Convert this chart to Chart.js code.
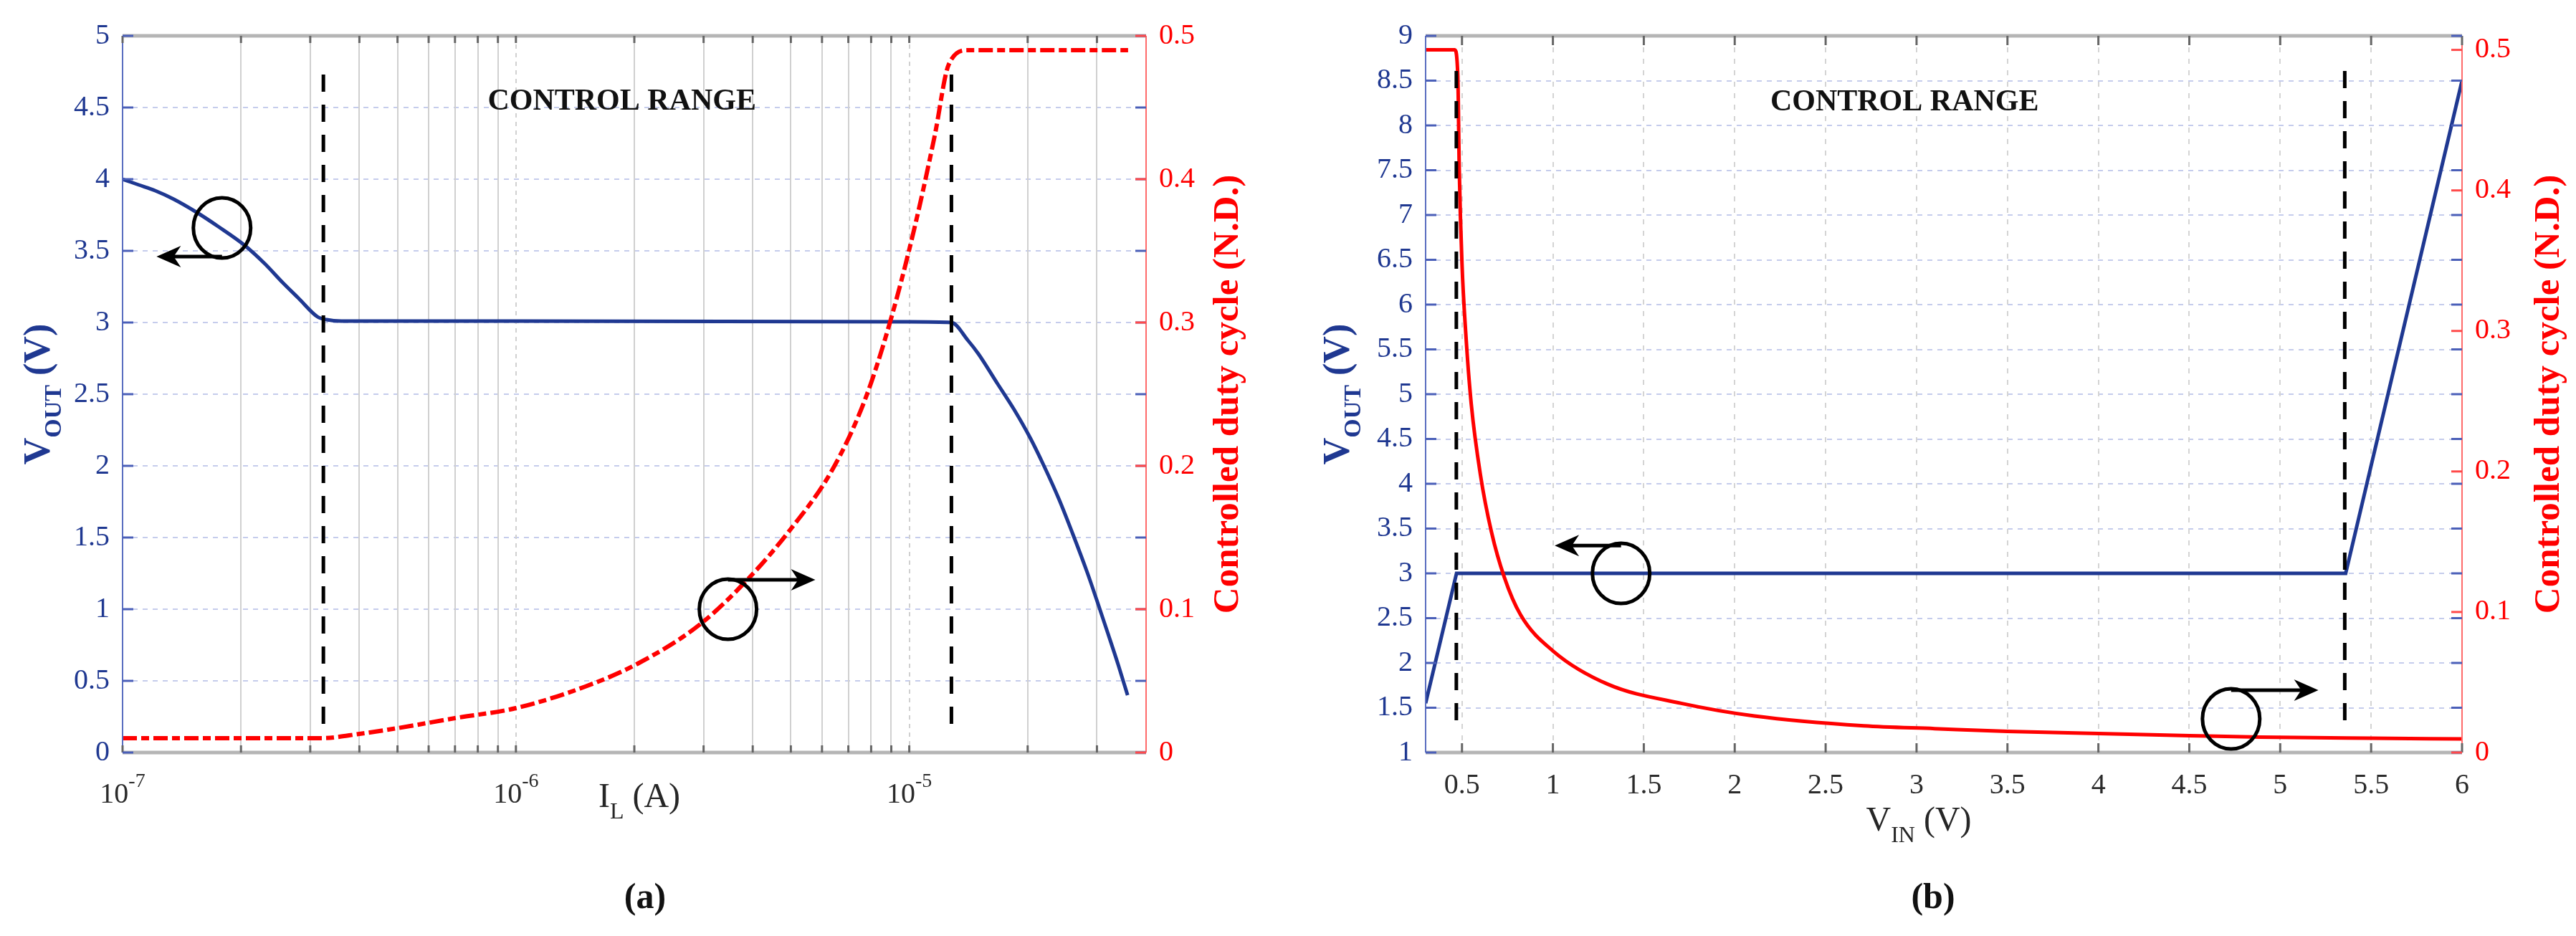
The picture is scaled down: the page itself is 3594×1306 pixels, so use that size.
<!DOCTYPE html>
<html>
<head>
<meta charset="utf-8">
<script src="https://cdn.jsdelivr.net/npm/chart.js@4.4.1/dist/chart.umd.min.js"></script>
<style>
  html, body { margin: 0; padding: 0; background: #fff; }
  #wrap { position: relative; width: 3594px; height: 1306px; }
  canvas { position: absolute; top: 0; width: 1797px; height: 1306px; }
  #chart-a { left: 0; }
  #chart-b { left: 1797px; }
</style>
</head>
<body>
<div id="wrap">
  <canvas id="chart-a" width="1797" height="1306"></canvas>
  <canvas id="chart-b" width="1797" height="1306"></canvas>
</div>
<script>
  // (a) output voltage and duty cycle vs load current
  var ilVout = [1e-7, 1.1e-7, 1.21e-7, 1.35e-7, 1.54e-7, 1.75e-7, 2.04e-7, 2.3e-7, 2.55e-7, 2.8e-7, 3.13e-7, 3.3e-7, 3.6e-7, 1e-6, 1e-5, 1.28e-5, 1.41e-5, 1.5e-5, 1.67e-5, 1.85e-5, 2.03e-5, 2.2e-5, 2.4e-5, 2.6e-5, 2.84e-5, 3.0e-5, 3.2e-5, 3.4e-5, 3.59e-5];
  var voutA = [4.00, 3.96, 3.92, 3.86, 3.77, 3.67, 3.54, 3.41, 3.28, 3.17, 3.04, 3.02, 3.01, 3.01, 3.005, 3.00, 2.875, 2.78, 2.58, 2.39, 2.195, 2.0, 1.77, 1.53, 1.25, 1.06, 0.83, 0.61, 0.40];
  var ilDuty = [1e-7, 3.2e-7, 4e-7, 5e-7, 7e-7, 1e-6, 1.5e-6, 2.04e-6, 2.94e-6, 3.92e-6, 5.0e-6, 6.35e-6, 7.7e-6, 8.93e-6, 1.03e-5, 1.16e-5, 1.26e-5, 1.41e-5, 3.6e-5];
  var dutyA = [0.01, 0.01, 0.013, 0.017, 0.024, 0.031, 0.046, 0.062, 0.0895, 0.122, 0.156, 0.1965, 0.2455, 0.30, 0.3655, 0.43, 0.48, 0.49, 0.49];
  var limitsA = [3.24e-7, 1.28e-5];
  var limitSpanA = [0.2, 4.82];

  // (b) output voltage and duty cycle vs input voltage
  var vinVout = [0.3, 0.47, 5.36, 6.0];
  var voutB = [1.55, 3.0, 3.0, 8.5];
  var vinDuty = [0.3, 0.46, 0.477, 0.485, 0.50, 0.521, 0.551, 0.601, 0.662, 0.732, 0.822, 1.003, 1.304, 1.706, 2.108, 2.71, 3.1, 3.5, 4.0, 4.5, 4.89, 5.5, 6.0];
  var dutyB = [0.5, 0.5, 0.482, 0.415, 0.348, 0.298, 0.248, 0.198, 0.157, 0.125, 0.098, 0.072, 0.0485, 0.035, 0.026, 0.019, 0.017, 0.015, 0.0135, 0.012, 0.011, 0.0102, 0.0097];
  var limitsB = [0.469, 5.355];
  var limitSpanB = [1.36, 8.74];

  // ticks
  var gridA = [1e-7, 2e-7, 3e-7, 4e-7, 5e-7, 6e-7, 7e-7, 8e-7, 9e-7, 1e-6, 2e-6, 3e-6, 4e-6, 5e-6, 6e-6, 7e-6, 8e-6, 9e-6, 1e-5, 2e-5, 3e-5];
  var decadesA = [1e-7, 1e-6, 1e-5];
  var decadeExpA = ['-7', '-6', '-5'];
  var voutTicksA = [0, 0.5, 1, 1.5, 2, 2.5, 3, 3.5, 4, 4.5, 5];
  var dutyTicksA = [0, 0.1, 0.2, 0.3, 0.4, 0.5];
  var vinTicksB = [0.5, 1, 1.5, 2, 2.5, 3, 3.5, 4, 4.5, 5, 5.5, 6];
  var voutTicksB = [1, 1.5, 2, 2.5, 3, 3.5, 4, 4.5, 5, 5.5, 6, 6.5, 7, 7.5, 8, 8.5, 9];
  var dutyTicksB = [0, 0.1, 0.2, 0.3, 0.4, 0.5];

  // circle + arrow marks (data coords): circle centre, arrow row, arrow tip
  var marksA = [
    { cx: 1.79e-7, cy: 3.66, ay: 3.46, tip: 1.22e-7 },
    { cx: 3.46e-6, cy: 1.0, ay: 1.205, tip: 5.77e-6 }
  ];
  var marksB = [
    { cx: 1.375, cy: 3.0, ay: 3.31, tip: 1.01 },
    { cx: 4.73, cy: 1.376, ay: 1.696, tip: 5.21 }
  ];
  var rangeLabelA = { x: 1.86e-6, y: 4.54 };
  var rangeLabelB = { x: 2.934, y: 8.256 };

  var SERIF = "'Liberation Serif', 'Times New Roman', serif";
  var BLUE = '#1f3891';
  var RED = '#ff0000';
  var HGRID = 'rgba(150,162,220,0.55)';

  function pts(xs, ys) {
    return xs.map(function (x, i) { return { x: x, y: ys[i] }; });
  }
  function fixTicks(vals) {
    return function (s) { s.ticks = vals.map(function (v) { return { value: v }; }); };
  }
  function fixW(w) { return function (s) { s.width = w; }; }
  function fixH(h) { return function (s) { s.height = h; }; }

  function runs(ctx, list, x, y, rot) {
    ctx.save();
    ctx.translate(x, y);
    if (rot) ctx.rotate(rot);
    ctx.textAlign = 'left';
    ctx.textBaseline = 'alphabetic';
    var total = 0;
    list.forEach(function (r) { ctx.font = r.font; total += ctx.measureText(r.text).width; });
    var cx = -total / 2;
    list.forEach(function (r) {
      ctx.font = r.font;
      ctx.fillStyle = r.color;
      ctx.fillText(r.text, cx, r.dy || 0);
      cx += ctx.measureText(r.text).width;
    });
    ctx.restore();
  }

  function line(ctx, x1, y1, x2, y2) {
    ctx.beginPath(); ctx.moveTo(x1, y1); ctx.lineTo(x2, y2); ctx.stroke();
  }

  function decor(cfg) {
    return {
      id: 'decor-' + cfg.name,
      afterDatasetsDraw: function (chart) {
        var ctx = chart.ctx, a = chart.chartArea;
        var x = chart.scales.x, y = chart.scales.y, y1 = chart.scales.y1;
        ctx.save();
        // frame
        ctx.lineWidth = 5; ctx.strokeStyle = '#b5b5b5';
        line(ctx, a.left, a.top, a.right, a.top);
        line(ctx, a.left, a.bottom, a.right, a.bottom);
        ctx.lineWidth = 2; ctx.strokeStyle = '#5a6ec0';
        line(ctx, a.left, a.top, a.left, a.bottom);
        ctx.strokeStyle = '#ff6a6a';
        line(ctx, a.right, a.top, a.right, a.bottom);
        // inward ticks
        ctx.lineWidth = 3; ctx.strokeStyle = '#666';
        cfg.xTicks.forEach(function (v) {
          var px = x.getPixelForValue(v);
          line(ctx, px, a.bottom, px, a.bottom - cfg.xTickLen);
          line(ctx, px, a.top, px, a.top + cfg.xTickLen);
        });
        ctx.strokeStyle = '#4a5fb8';
        cfg.yTicks.forEach(function (v) {
          var py = y.getPixelForValue(v);
          line(ctx, a.left, py, a.left + 15, py);
          line(ctx, a.right, py, a.right - 15, py);
        });
        ctx.strokeStyle = '#ff4a4a';
        cfg.dutyTicks.forEach(function (v) {
          var py = y1.getPixelForValue(v);
          line(ctx, a.right, py, a.right - 15, py);
        });
        // circles and arrows
        ctx.strokeStyle = '#000'; ctx.fillStyle = '#000'; ctx.lineWidth = 5;
        cfg.marks.forEach(function (m) {
          var cx = x.getPixelForValue(m.cx), cy = y.getPixelForValue(m.cy);
          ctx.beginPath(); ctx.ellipse(cx, cy, 40, 42, 0, 0, Math.PI * 2); ctx.stroke();
          var ay = y.getPixelForValue(m.ay), tip = x.getPixelForValue(m.tip);
          var d = tip > cx ? 1 : -1;
          line(ctx, cx, ay, tip - d * 20, ay);
          ctx.beginPath();
          ctx.moveTo(tip, ay);
          ctx.lineTo(tip - d * 34, ay - 15);
          ctx.lineTo(tip - d * 24, ay);
          ctx.lineTo(tip - d * 34, ay + 15);
          ctx.closePath(); ctx.fill();
        });
        ctx.restore();
      },
      afterDraw: function (chart) {
        var ctx = chart.ctx, a = chart.chartArea;
        var x = chart.scales.x, y = chart.scales.y;
        var mid = (a.top + a.bottom) / 2;
        // range label
        ctx.save();
        ctx.font = 'bold 42px ' + SERIF;
        ctx.fillStyle = '#111';
        ctx.textAlign = 'center'; ctx.textBaseline = 'middle';
        ctx.fillText('CONTROL RANGE', x.getPixelForValue(cfg.range.x), y.getPixelForValue(cfg.range.y));
        ctx.restore();
        // decade labels for log axis
        if (cfg.decades) {
          cfg.decades.forEach(function (v, i) {
            runs(ctx, [
              { text: '10', font: '40px ' + SERIF, color: '#2b2b2b' },
              { text: cfg.decadeExp[i], font: '28px ' + SERIF, color: '#2b2b2b', dy: -22 }
            ], x.getPixelForValue(v), 1120);
          });
        }
        // axis titles
        runs(ctx, [
          { text: 'V', font: 'bold 52px ' + SERIF, color: BLUE },
          { text: 'OUT', font: 'bold 34px ' + SERIF, color: BLUE, dy: 16 },
          { text: ' (V)', font: 'bold 52px ' + SERIF, color: BLUE }
        ], cfg.voutTitleX, mid, -Math.PI / 2);
        runs(ctx, [
          { text: 'Controlled duty cycle (N.D.)', font: 'bold 51px ' + SERIF, color: RED }
        ], cfg.dutyTitleX, mid, -Math.PI / 2);
        runs(ctx, [
          { text: cfg.xMain, font: '48px ' + SERIF, color: '#262626' },
          { text: cfg.xSub, font: '32px ' + SERIF, color: '#262626', dy: 16 },
          { text: cfg.xUnit, font: '48px ' + SERIF, color: '#262626' }
        ], cfg.xTitleX, cfg.xTitleY);
        runs(ctx, [
          { text: cfg.panel, font: 'bold 50px ' + SERIF, color: '#111' }
        ], 900, 1267);
      }
    };
  }

  function yScales(voutMin, voutMax, voutTicks, dutyMax, dutyTicks, leftW, rightW) {
    return {
      y: {
        position: 'left', min: voutMin, max: voutMax,
        afterBuildTicks: fixTicks(voutTicks), afterFit: fixW(leftW),
        ticks: { color: BLUE, font: { family: SERIF, size: 40 }, padding: 18, autoSkip: false,
          callback: function (v) { return String(v); } },
        grid: { color: HGRID, lineWidth: 2, drawTicks: false },
        border: { display: false, dash: [7, 7] }
      },
      y1: {
        position: 'right', min: 0, max: dutyMax,
        afterBuildTicks: fixTicks(dutyTicks), afterFit: fixW(rightW),
        ticks: { color: RED, font: { family: SERIF, size: 40 }, padding: 18, autoSkip: false,
          callback: function (v) { return String(v); } },
        grid: { drawOnChartArea: false, drawTicks: false },
        border: { display: false }
      }
    };
  }

  function limitSets(xs, span) {
    return xs.map(function (v) {
      return {
        data: pts([v, v], span), yAxisID: 'y', showLine: true, pointRadius: 0,
        borderColor: '#000', borderWidth: 5, borderDash: [24, 18], order: 0
      };
    });
  }

  var scalesA = yScales(0, 5, voutTicksA, 0.5, dutyTicksA, 171, 198);
  scalesA.x = {
    type: 'logarithmic', min: 1e-7, max: 4e-5,
    afterBuildTicks: fixTicks(gridA), afterFit: fixH(256),
    ticks: { display: false, autoSkip: false },
    grid: { color: '#d0d0d0', lineWidth: 2, drawTicks: false },
    border: { display: false, dash: function (c) {
      return c.tick && decadesA.indexOf(c.tick.value) >= 0 ? [6, 6] : [];
    } }
  };

  var chartA = new Chart(document.getElementById('chart-a'), {
    type: 'scatter',
    data: {
      datasets: [
        { data: pts(ilVout, voutA), yAxisID: 'y', showLine: true, pointRadius: 0,
          borderColor: BLUE, borderWidth: 5, cubicInterpolationMode: 'monotone', order: 2 },
        { data: pts(ilDuty, dutyA), yAxisID: 'y1', showLine: true, pointRadius: 0,
          borderColor: RED, borderWidth: 6, borderDash: [20, 6, 11, 6], cubicInterpolationMode: 'monotone', order: 1 }
      ].concat(limitSets(limitsA, limitSpanA))
    },
    options: {
      responsive: false, animation: false,
      layout: { padding: { top: 50, left: 0, right: 0, bottom: 0 } },
      plugins: { legend: { display: false }, tooltip: { enabled: false } },
      scales: scalesA
    },
    plugins: [decor({
      name: 'a', xTicks: gridA, xTickLen: 10, yTicks: voutTicksA, dutyTicks: dutyTicksA,
      marks: marksA, range: rangeLabelA, decades: decadesA, decadeExp: decadeExpA,
      voutTitleX: 69, dutyTitleX: 1727, xMain: 'I', xSub: 'L', xUnit: ' (A)',
      xTitleX: 892, xTitleY: 1126, panel: '(a)'
    })]
  });

  var scalesB = yScales(1, 9, voutTicksB, 0.51, dutyTicksB, 192, 159);
  scalesB.x = {
    type: 'linear', min: 0.3, max: 6,
    afterBuildTicks: fixTicks(vinTicksB), afterFit: fixH(256),
    ticks: { color: '#2b2b2b', font: { family: SERIF, size: 40 }, padding: 22, autoSkip: false, maxRotation: 0,
      callback: function (v) { return String(v); } },
    grid: { color: '#d4d4d4', lineWidth: 2, drawTicks: false },
    border: { display: false, dash: [7, 9] }
  };

  var chartB = new Chart(document.getElementById('chart-b'), {
    type: 'scatter',
    data: {
      datasets: [
        { data: pts(vinVout, voutB), yAxisID: 'y', showLine: true, pointRadius: 0,
          borderColor: BLUE, borderWidth: 5, order: 2 },
        { data: pts(vinDuty, dutyB), yAxisID: 'y1', showLine: true, pointRadius: 0,
          borderColor: RED, borderWidth: 5, cubicInterpolationMode: 'monotone', order: 1 }
      ].concat(limitSets(limitsB, limitSpanB))
    },
    options: {
      responsive: false, animation: false,
      layout: { padding: { top: 50, left: 0, right: 0, bottom: 0 } },
      plugins: { legend: { display: false }, tooltip: { enabled: false } },
      scales: scalesB
    },
    plugins: [decor({
      name: 'b', xTicks: vinTicksB, xTickLen: 13, yTicks: voutTicksB, dutyTicks: dutyTicksB,
      marks: marksB, range: rangeLabelB, decades: null,
      voutTitleX: 85, dutyTitleX: 1773, xMain: 'V', xSub: 'IN', xUnit: ' (V)',
      xTitleX: 880, xTitleY: 1159, panel: '(b)'
    })]
  });
</script>
</body>
</html>
